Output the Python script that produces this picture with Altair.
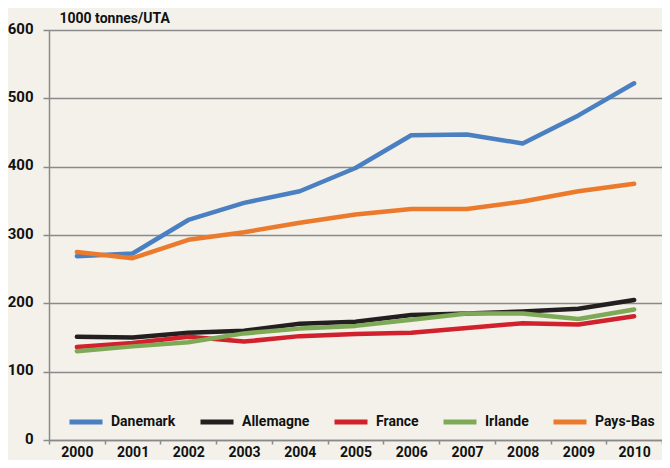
import altair as alt
import pandas as pd

years = [2000, 2001, 2002, 2003, 2004, 2005, 2006, 2007, 2008, 2009, 2010]
series = ["Danemark", "Allemagne", "France", "Irlande", "Pays-Bas"]
colors = ["#4a7fc1", "#231f20", "#d0212d", "#7ea956", "#ec7a2c"]

danemark = [269, 273, 322, 347, 364, 398, 446, 447, 434, 475, 522]
allemagne = [151, 150, 157, 160, 170, 173, 183, 185, 188, 192, 205]
france = [136, 142, 151, 144, 152, 155, 157, 164, 171, 169, 181]
irlande = [130, 137, 143, 156, 163, 167, 176, 185, 185, 177, 191]
pays_bas = [275, 266, 293, 304, 318, 330, 338, 338, 349, 364, 375]

values = [danemark, allemagne, france, irlande, pays_bas]
rows = []
for i, (name, vals) in enumerate(zip(series, values)):
    for y, v in zip(years, vals):
        rows.append({"year": str(y), "value": v, "pays": name, "ord": i})
df = pd.DataFrame(rows)

FONT = "Roboto"
GRAY = "#8a8a8a"

chart = alt.Chart(df).mark_line(strokeWidth=4.5, strokeCap="round", strokeJoin="round").encode(
    x=alt.X(
        "year:O",
        bandPosition=0.5,
        scale=alt.Scale(type="band", paddingInner=0, paddingOuter=0),
        axis=alt.Axis(
            title=None,
            labelAngle=0,
            tickBand="extent",
            tickSize=4,
            labelPadding=1,
            labelFont=FONT,
            labelFontWeight="bold",
            labelFontSize=14,
            labelColor="#111111",
            domainColor=GRAY,
            domainWidth=1.5,
            tickColor=GRAY,
            tickWidth=1.5,
            grid=False,
        ),
    ),
    y=alt.Y(
        "value:Q",
        scale=alt.Scale(domain=[0, 600], nice=False),
        axis=alt.Axis(
            values=[0, 100, 200, 300, 400, 500, 600],
            title="1000 tonnes/UTA",
            titleAngle=0,
            titleX=10,
            titleY=-5,
            titleAlign="left",
            titleBaseline="bottom",
            titleFont=FONT,
            titleFontWeight="bold",
            titleFontSize=14,
            titleColor="#111111",
            tickSize=6,
            labelPadding=10,
            labelOffset=-2,
            labelFont=FONT,
            labelFontWeight="bold",
            labelFontSize=15,
            labelColor="#111111",
            domainColor=GRAY,
            domainWidth=1.5,
            tickColor=GRAY,
            tickWidth=1.5,
            grid=True,
            gridColor=GRAY,
            gridWidth=1.5,
        ),
    ),
    color=alt.Color(
        "pays:N",
        scale=alt.Scale(domain=series, range=colors),
        sort=series,
        legend=alt.Legend(
            title=None,
            orient="none",
            direction="horizontal",
            legendX=18,
            legendY=373,
            symbolType="stroke",
            symbolSize=1089,
            symbolStrokeWidth=5,
            labelFont=FONT,
            labelFontWeight="bold",
            labelFontSize=14,
            labelColor="#111111",
            labelOffset=6,
            columnPadding=14,
            padding=0,
        ),
    ),
    order=alt.Order("ord:Q"),
).properties(
    width=613,
    height=410,
    background="#f3f1ea",
    autosize=alt.AutoSizeParams(type="none"),
    padding={"left": 41, "top": 22, "right": 0, "bottom": 20},
).configure_view(stroke=None)

chart.save("out.html", embed_options={"renderer": "svg", "actions": False})
